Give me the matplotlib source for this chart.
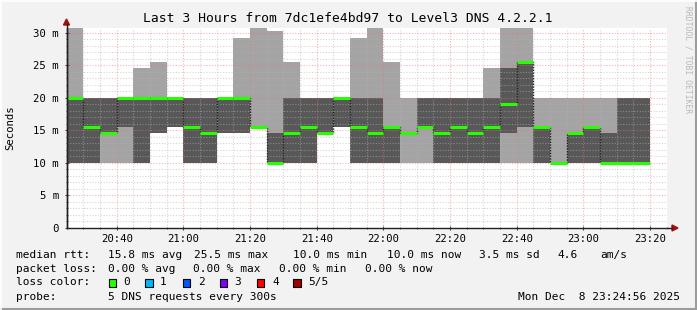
import matplotlib
matplotlib.use("Agg")
import matplotlib.pyplot as plt
from matplotlib.lines import Line2D
from matplotlib.patches import Polygon, Rectangle
import numpy as np

# ---------------- data (ms) ----------------
start_minute = 25          # first step starts 20:25 (minutes after 20:00)
step_minutes = 5
ping1 = [10, 10, 10, 10, 10, 14.6, 15.5, 10, 10, 14.6, 14.6, 15.5, 10, 10, 10, 14.6, 15.5, 10,
         10, 10, 10, 10, 10, 10, 10, 10, 10, 10, 10, 10, 10, 10, 10, 10, 10]
ping2 = [10, 10, 14.6, 15.5, 10, 14.6, 15.5, 10, 10, 14.6, 14.6, 15.5, 10, 10, 10, 14.6, 15.5, 10,
         10, 10, 14.6, 15.5, 10, 10, 10, 10, 14.6, 15.5, 10, 10, 10, 10, 10, 10, 10]
median = [20, 15.5, 14.6, 20, 20, 20, 20, 15.5, 14.6, 20, 20, 15.5, 10, 14.6, 15.5, 14.6, 20, 15.5,
          14.6, 15.5, 14.6, 15.5, 14.6, 15.5, 14.6, 15.5, 19.1, 25.5, 15.5, 10, 14.6, 15.5, 10, 10, 10]
ping4 = [20, 20, 20, 20, 20, 20, 20, 20, 20, 20, 20, 15.5, 14.6, 20, 20, 20, 20, 20,
         20, 15.5, 14.6, 20, 20, 20, 20, 20, 24.6, 25.5, 15.5, 10, 14.6, 15.5, 14.6, 20, 20]
ping5 = [30.7, 20, 20, 20, 24.6, 25.5, 20, 20, 20, 20, 29.2, 30.7, 30.2, 25.5, 20, 20, 20, 29.2,
         30.7, 25.5, 20, 20, 20, 20, 20, 24.6, 30.7, 30.7, 20, 20, 20, 20, 20, 20, 20]
x_major_labels = ["20:40", "21:00", "21:20", "21:40", "22:00", "22:20", "22:40", "23:00", "23:20"]
y_labels = ["0", "5 m", "10 m", "15 m", "20 m", "25 m", "30 m"]
loss_labels = ["0", "1", "2", "3", "4", "5/5"]
loss_colors = ["#26ff00", "#00b8ff", "#0059ff", "#7e00ff", "#ff0000", "#a10000"]

title = "Last 3 Hours from 7dc1efe4bd97 to Level3 DNS 4.2.2.1"
row1 = [("median rtt:", 16.4), ("15.8 ms avg", 108), ("25.5 ms max", 194.2), ("10.0 ms min", 293.3),
        ("10.0 ms now", 386.7), ("3.5 ms sd", 479), ("4.6", 557.8), ("am/s", 600)]
row2 = [("packet loss:", 16.4), ("0.00 % avg", 107.6), ("0.00 % max", 193.3), ("0.00 % min", 279),
        ("0.00 % now", 365.3)]

# ---------------- figure ----------------
W, H = 697, 310
FONT = "DejaVu Sans Mono"
fig = plt.figure(figsize=(W / 100, H / 100), dpi=100, facecolor="#f2f2f2")


def fx(x):
    return x / W


def fy(y):
    return 1 - y / H


ax = fig.add_axes([fx(66.5), fy(228), 600 / W, 200 / H])
ax.set_facecolor("white")

n = len(median)
starts = start_minute + step_minutes * np.arange(n)
edges = np.append(starts, starts[-1] + step_minutes)


def ext(a):
    a = np.asarray(a, dtype=float)
    return np.append(a, a[-1])


ax.fill_between(edges, ext(ping1), ext(ping5), step="post", color="#a4a4a4", lw=0, zorder=1)
ax.fill_between(edges, ext(ping2), ext(ping4), step="post", color="#585858", lw=0, zorder=2)

# grid
xmin, xmax = 24.93, 204.93
ymax = 30.72
for m in range(30, 205, 5):
    if m % 20 == 0:
        ax.axvline(m, color=(0.95, 0.45, 0.45, 0.55), lw=0.8, ls=(0, (1, 1.5)), zorder=3)
    else:
        ax.axvline(m, color=(0.7, 0.7, 0.7, 0.55), lw=0.8, ls=(0, (1, 1.5)), zorder=3)
for v in range(1, 31):
    if v % 5 == 0:
        ax.axhline(v, color=(0.95, 0.45, 0.45, 0.55), lw=0.8, ls=(0, (1, 1.5)), zorder=3)
    else:
        ax.axhline(v, color=(0.7, 0.7, 0.7, 0.55), lw=0.8, ls=(0, (1, 1.5)), zorder=3)

# median line
ax.step(edges, ext(median), where="post", color="#202020", lw=1.0, ls=(0, (1, 1)), zorder=4)
ax.hlines(median, starts, starts + step_minutes, color="#26ff00", lw=2.2, zorder=5)

ax.set_xlim(xmin, xmax)
ax.set_ylim(0, ymax)
for s in ["top", "right"]:
    ax.spines[s].set_visible(False)
for s in ["left", "bottom"]:
    ax.spines[s].set_color("#202020")
    ax.spines[s].set_linewidth(1.0)
    ax.spines[s].set_zorder(6)

ax.set_xticks(np.arange(40, 201, 20))
ax.set_xticklabels(x_major_labels, fontfamily=FONT, fontsize=7.7)
ax.set_xticks(np.arange(30, 205, 5), minor=True)
ax.set_yticks(np.arange(0, 31, 5))
ax.set_yticklabels(y_labels, fontfamily=FONT, fontsize=7.7)
ax.set_yticks(np.arange(0, 31, 1), minor=True)
ax.tick_params(axis="both", which="minor", direction="inout", length=2, width=0.7, color="#606060")
ax.tick_params(axis="both", which="major", direction="inout", length=3, width=0.8, color="#404040",
               labelcolor="#000000")
ax.tick_params(axis="x", which="major", pad=2.5)
ax.tick_params(axis="y", which="major", pad=4)

# axis arrows
fig.add_artist(Line2D([fx(66.5), fx(66.5)], [fy(228), fy(24)], color="#202020", lw=1.0))
fig.add_artist(Line2D([fx(666.5), fx(672)], [fy(228), fy(228)], color="#202020", lw=1.0))
fig.add_artist(Polygon([[fx(63.5), fy(25)], [fx(69.5), fy(25)], [fx(66.5), fy(19)]],
                       closed=True, color="#a01010", transform=fig.transFigure))
fig.add_artist(Polygon([[fx(672), fy(225)], [fx(672), fy(231)], [fx(678), fy(228)]],
                       closed=True, color="#a01010", transform=fig.transFigure))

# texts
fig.text(fx(348), fy(19), title, ha="center", va="center", fontfamily=FONT, fontsize=9.4, color="#000")
fig.text(fx(10), fy(128), "Seconds", ha="center", va="center", rotation=90, fontfamily=FONT,
         fontsize=7.7, color="#000")
fig.text(fx(688), fy(60), "RRDTOOL / TOBI OETIKER", ha="center", va="center", rotation=270,
         fontfamily=FONT, fontsize=5.8, color="#b8b8b8")

for txt, x in row1:
    fig.text(fx(x), fy(254.6), txt, ha="left", va="center", fontfamily=FONT, fontsize=8, color="#000")
for txt, x in row2:
    fig.text(fx(x), fy(268.5), txt, ha="left", va="center", fontfamily=FONT, fontsize=8, color="#000")
fig.text(fx(16.4), fy(282.4), "loss color:", ha="left", va="center", fontfamily=FONT, fontsize=8,
         color="#000")
box_x = [108.9, 145.3, 182.7, 220.0, 256.9, 293.3]
lab_x = [123.6, 160.0, 197.8, 234.7, 272.0, 308.0]
for c, lab, bx, lx in zip(loss_colors, loss_labels, box_x, lab_x):
    fig.add_artist(Rectangle((fx(bx), fy(286.5)), 7.5 / W, 8 / H, facecolor=c, edgecolor="#000",
                             lw=0.8, transform=fig.transFigure))
    fig.text(fx(lx), fy(282.4), lab, ha="left", va="center", fontfamily=FONT, fontsize=8, color="#000")
fig.text(fx(16.4), fy(296.6), "probe:", ha="left", va="center", fontfamily=FONT, fontsize=8, color="#000")
fig.text(fx(108), fy(296.6), "5 DNS requests every 300s", ha="left", va="center", fontfamily=FONT,
         fontsize=8, color="#000")
fig.text(fx(680.5), fy(296.6), "Mon Dec  8 23:24:56 2025", ha="right", va="center", fontfamily=FONT,
         fontsize=8, color="#000")

# frame
fig.add_artist(Line2D([0, 1], [fy(309), fy(309)], color="#9c9c9c", lw=1.5))
fig.add_artist(Line2D([fx(696), fx(696)], [0, 1], color="#9c9c9c", lw=1.5))
fig.add_artist(Line2D([0, 1], [fy(0.5), fy(0.5)], color="#ffffff", lw=1.2))
fig.add_artist(Line2D([fx(0.5), fx(0.5)], [0, 1], color="#ffffff", lw=1.2))

fig.savefig("out.png", dpi=100, facecolor=fig.get_facecolor())
